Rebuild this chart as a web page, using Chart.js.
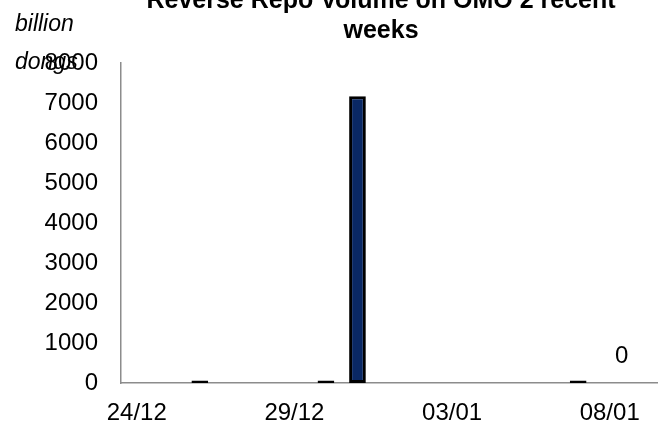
<!DOCTYPE html>
<html>
<head>
<meta charset="utf-8">
<script src="https://cdn.jsdelivr.net/npm/chart.js@4.4.1/dist/chart.umd.min.js"></script>
<style>
html,body{margin:0;padding:0;background:#fff;}
#wrap{width:658px;height:428px;position:relative;}
</style>
</head>
<body>
<div id="wrap"><canvas id="c" width="658" height="428"></canvas></div>
<script>
const categories = ["24/12","25/12","26/12","27/12","28/12","29/12","30/12","31/12","01/01","02/01","03/01","04/01","05/01","06/01","07/01","08/01","09/01"];
const volumes = [null,null,60,null,null,null,60,7170,null,null,null,null,null,null,60,null,null];
const yTicks = [0,1000,2000,3000,4000,5000,6000,7000,8000];
const titleLines = ["Reverse Repo Volume on OMO 2 recent","weeks"];
const unitLines = ["billion","dongs"];
const valueLabelIndex = 15;
const valueLabelText = "0";

const FONT = "Liberation Sans, Arial, sans-serif";

const textPlugin = {
  id: 'textPlugin',
  afterDraw(chart) {
    const ctx = chart.ctx;
    const xs = chart.scales.x, ys = chart.scales.y;
    ctx.save();
    ctx.fillStyle = '#000';
    ctx.textAlign = 'center';
    ctx.textBaseline = 'alphabetic';
    ctx.font = 'bold 25px ' + FONT;
    ctx.fillText(titleLines[0], 381, 8);
    ctx.fillText(titleLines[1], 381, 38);
    ctx.textAlign = 'left';
    ctx.font = 'italic 23px ' + FONT;
    ctx.fillText(unitLines[0], 15, 31);
    ctx.fillText(unitLines[1], 15, 69);
    ctx.textAlign = 'center';
    ctx.font = '24px ' + FONT;
    ctx.fillText(valueLabelText, xs.getPixelForValue(valueLabelIndex) + 12, ys.getPixelForValue(0) - 20);
    ctx.restore();
  }
};

new Chart(document.getElementById('c'), {
  type: 'bar',
  data: {
    labels: categories,
    datasets: [{
      data: volumes,
      backgroundColor: '#0a2864',
      borderColor: '#000000',
      borderWidth: 3,
      borderSkipped: false,
      categoryPercentage: 1.0,
      barPercentage: 0.53
    }]
  },
  options: {
    responsive: false,
    animation: false,
    layout: { padding: { top: 63, right: 1, left: 0, bottom: 0 } },
    plugins: { legend: { display: false }, title: { display: false }, tooltip: { enabled: false } },
    scales: {
      x: {
        offset: true,
        grid: { display: false, drawTicks: false },
        border: { display: true, color: '#8c8c8c', width: 1.5 },
        afterFit(s) { s.height = 45; },
        ticks: {
          autoSkip: false, maxRotation: 0, minRotation: 0, padding: 16,
          color: '#000', font: { family: FONT, size: 24 },
          callback(v, i) { return i % 5 === 0 ? categories[i] : ''; }
        }
      },
      y: {
        min: 0, max: 8000,
        grid: { display: false, drawTicks: false },
        border: { display: true, color: '#8c8c8c', width: 1.5 },
        afterFit(s) { s.width = 121; },
        afterBuildTicks(s) { s.ticks = yTicks.map(v => ({ value: v })); },
        ticks: {
          padding: 23, color: '#000', font: { family: FONT, size: 24 },
          callback(v) { return String(v); }
        }
      }
    }
  },
  plugins: [textPlugin]
});
</script>
</body>
</html>
